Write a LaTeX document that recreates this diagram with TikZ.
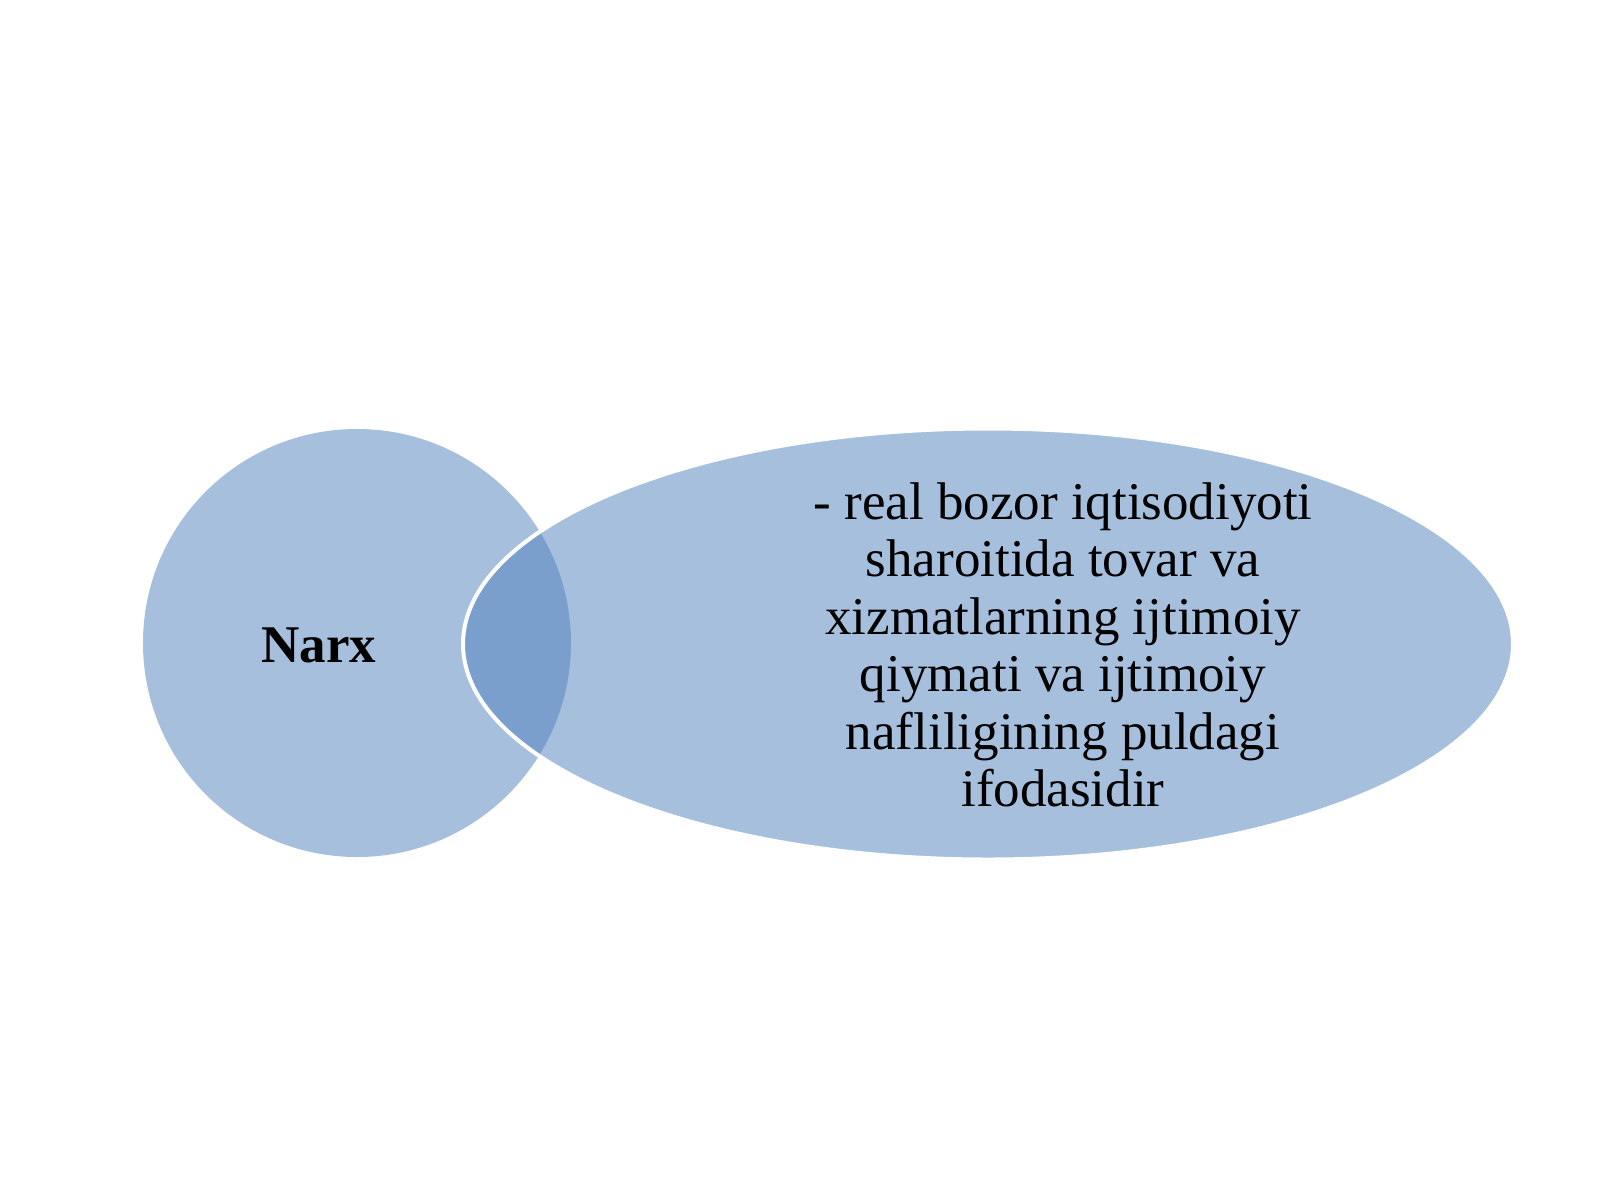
\documentclass[tikz,border=0pt]{standalone}
\usepackage{fontspec}
\setmainfont{Liberation Serif}
\usetikzlibrary{shapes.geometric}
\definecolor{narxrang}{HTML}{4F81BD}

\begin{document}
\begin{tikzpicture}[x=0.5pt,y=-0.5pt]
\tikzstyle{every node}+=[inner sep=0pt]
\tikzstyle{shaffof}=[fill=narxrang,fill opacity=0.5]
\useasboundingbox [fill=white] (0,0) rectangle (1600,1200);
% doira va ellips
\node [shaffof,circle,minimum size=214pt] (doira) at (357,643) {};
\node [shaffof,ellipse,draw=white,line width=2pt,minimum width=525pt,minimum height=215.5pt] (ellips) at (988,644) {};
% matnlar
\node [font=\fontsize{26.5}{28.75}\selectfont\bfseries] (narx) at (319,645) {Narx};
\node [align=center,font=\fontsize{26.5}{28.75}\selectfont] (tarif) at (1063,645)
  {- real bozor iqtisodiyoti\\sharoitida tovar va\\xizmatlarning ijtimoiy\\qiymati va ijtimoiy\\nafliligining puldagi\\ifodasidir};
\end{tikzpicture}
\end{document}
